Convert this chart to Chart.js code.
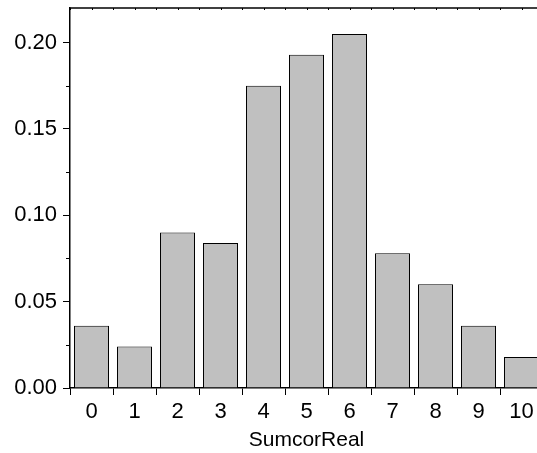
<!DOCTYPE html>
<html>
<head>
<meta charset="utf-8">
<script src="https://cdn.jsdelivr.net/npm/chart.js@4.4.0/dist/chart.umd.min.js"></script>
<style>
    html, body { margin: 0; padding: 0; background: #fff; overflow: hidden; }
    #wrap { width: 546px; height: 453px; position: relative; }
</style>
</head>
<body>
<div id="wrap"><canvas id="histChart"></canvas></div>
<script>
// Histogram of SumcorReal (relative frequency)
const CATEGORIES = ['0', '1', '2', '3', '4', '5', '6', '7', '8', '9', '10'];
const FREQUENCIES = [0.036, 0.024, 0.090, 0.084, 0.175, 0.193, 0.205, 0.078, 0.060, 0.036, 0.018];
const Y_MAJOR_TICKS = [0, 0.05, 0.10, 0.15, 0.20];
const Y_MINOR_TICKS = [0.025, 0.075, 0.125, 0.175];
const X_TITLE = 'SumcorReal';

const FONT = 'Arial, "Liberation Sans", Helvetica, sans-serif';

// frame top line + minor ticks that Chart.js can't draw on its own
const frameExtras = {
    id: 'frameExtras',
    afterDraw(chart) {
        const { ctx, chartArea, scales } = chart;
        ctx.save();
        ctx.strokeStyle = '#000';
        ctx.lineWidth = 1.5;
        ctx.beginPath();
        ctx.moveTo(chartArea.left, chartArea.top);
        ctx.lineTo(chartArea.right, chartArea.top);
        ctx.stroke();

        // minor y ticks
        ctx.lineWidth = 1;
        Y_MINOR_TICKS.forEach(v => {
            const y = Math.round(scales.y.getPixelForValue(v)) + 0.5;
            ctx.beginPath();
            ctx.moveTo(chartArea.left - 4, y);
            ctx.lineTo(chartArea.left, y);
            ctx.stroke();
        });

        // small inward ticks on the top line
        for (let i = -0.5; i <= CATEGORIES.length - 0.5; i += 0.5) {
            const x = Math.round(scales.x.getPixelForValue(i)) + 0.5;
            ctx.beginPath();
            ctx.moveTo(x, chartArea.top);
            ctx.lineTo(x, chartArea.top + 2);
            ctx.stroke();
        }
        ctx.restore();
    }
};

new Chart(document.getElementById('histChart'), {
    type: 'bar',
    data: {
        labels: CATEGORIES,
        datasets: [{
            data: FREQUENCIES,
            backgroundColor: '#c0c0c0',
            borderColor: '#000',
            borderWidth: 1,
            barPercentage: 0.814,
            categoryPercentage: 1.0
        }]
    },
    options: {
        responsive: true,
        maintainAspectRatio: false,
        animation: false,
        layout: { padding: { top: 8, right: 3, left: 0, bottom: 0 } },
        plugins: {
            legend: { display: false },
            tooltip: { enabled: false }
        },
        scales: {
            x: {
                offset: true,
                grid: {
                    display: true,
                    drawOnChartArea: false,
                    drawTicks: true,
                    tickLength: 7,
                    tickColor: '#000',
                    tickWidth: 1
                },
                border: { display: true, color: '#000', width: 1.5 },
                ticks: {
                    color: '#000',
                    font: { family: FONT, size: 22 },
                    padding: 4,
                    maxRotation: 0
                },
                title: {
                    display: true,
                    text: X_TITLE,
                    color: '#000',
                    font: { family: FONT, size: 21 },
                    padding: { top: 0, bottom: 0 }
                },
                afterFit: scale => {
                    scale.height = 65;
                    scale.paddingLeft = 0;
                    scale.paddingRight = 0;
                }
            },
            y: {
                min: 0,
                max: 0.22,
                afterBuildTicks: scale => {
                    scale.ticks = Y_MAJOR_TICKS.map(v => ({ value: v }));
                },
                grid: {
                    display: true,
                    drawOnChartArea: false,
                    drawTicks: true,
                    tickLength: 7,
                    tickColor: '#000',
                    tickWidth: 1
                },
                border: { display: true, color: '#000', width: 1.5 },
                ticks: {
                    color: '#000',
                    font: { family: FONT, size: 22 },
                    padding: 6,
                    callback: v => Number(v).toFixed(2)
                },
                afterFit: scale => {
                    scale.width = 70;
                    scale.paddingTop = 0;
                    scale.paddingBottom = 0;
                }
            }
        }
    },
    plugins: [frameExtras]
});
</script>
</body>
</html>
